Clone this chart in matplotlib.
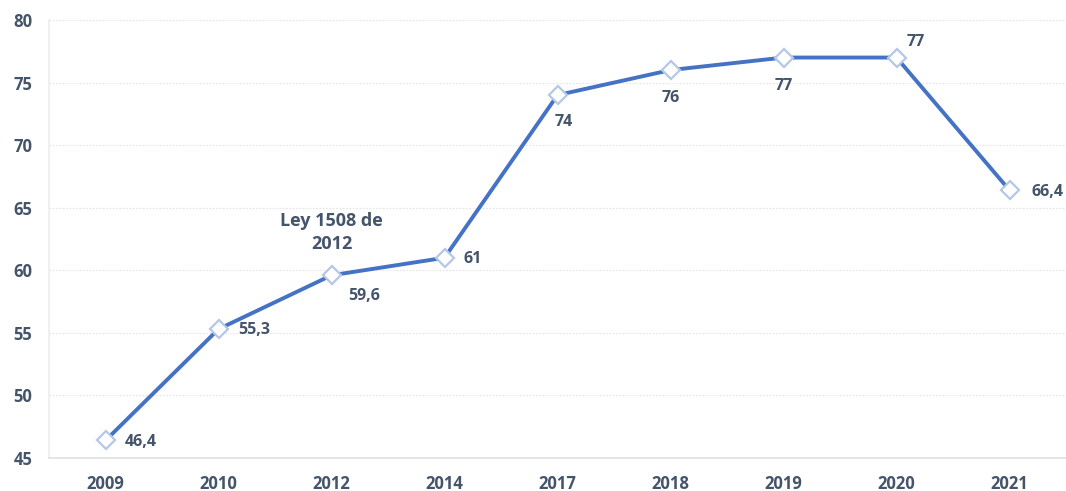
import matplotlib
matplotlib.use("Agg")
import matplotlib.pyplot as plt

years = ["2009", "2010", "2012", "2014", "2017", "2018", "2019", "2020", "2021"]
values = [46.4, 55.3, 59.6, 61, 74, 76, 77, 77, 66.4]
value_labels = ["46,4", "55,3", "59,6", "61", "74", "76", "77", "77", "66,4"]
y_ticks = [45, 50, 55, 60, 65, 70, 75, 80]
annotation_text = "Ley 1508 de\n2012"

# label offsets in points (dx, dy)
offsets = [(14, -1), (14, -1), (12, -15), (14, -1), (-2, -19.5), (0, -20), (0, -20.5), (7, 11), (16, -1)]
has = ["left", "left", "left", "left", "left", "center", "center", "left", "left"]

plt.rcParams['font.family'] = ['Open Sans', 'DejaVu Sans']
text_color = "#44546A"

fig = plt.figure(figsize=(10.66, 4.91), dpi=100)
ax = fig.add_axes([49/1066, 33/491, 1 - 49/1066, (458-20)/491])

x = list(range(len(years)))
ax.plot(x, values, color="#4472C4", linewidth=2.8, marker="D", markersize=9,
        markerfacecolor="white", markeredgecolor="#B4C7E7", markeredgewidth=1.6, zorder=3)

for xi, v, lab, (dx, dy), ha in zip(x, values, value_labels, offsets, has):
    ax.annotate(lab, (xi, v), xytext=(dx, dy), textcoords="offset points",
                ha=ha, va="center", fontsize=11.5, fontweight="bold", color=text_color)

ax.text(2, 63.0, annotation_text, ha="center", va="center", fontsize=13,
        fontweight="bold", color=text_color, linespacing=1.35)

ax.set_xlim(-0.5, len(years) - 0.5)
ax.set_ylim(45, 80)
ax.set_xticks(x)
ax.set_xticklabels(years)
ax.set_yticks(y_ticks)
for lbl in ax.get_xticklabels() + ax.get_yticklabels():
    lbl.set_fontweight("bold")
    lbl.set_color(text_color)
    lbl.set_fontsize(12)
ax.tick_params(axis="both", length=0)
ax.tick_params(axis="x", pad=12)
ax.tick_params(axis="y", pad=12)

ax.grid(axis="y", color="#E4E4E4", linestyle=(0, (1.5, 1.5)), linewidth=0.8)
ax.set_axisbelow(True)
for s in ["top", "right"]:
    ax.spines[s].set_visible(False)
ax.spines["left"].set_color("#EEEEEE")
ax.spines["bottom"].set_color("#E0E0E0")
ax.spines["left"].set_linewidth(1.2)
ax.spines["bottom"].set_linewidth(1.2)

fig.savefig("out.png", dpi=100)
